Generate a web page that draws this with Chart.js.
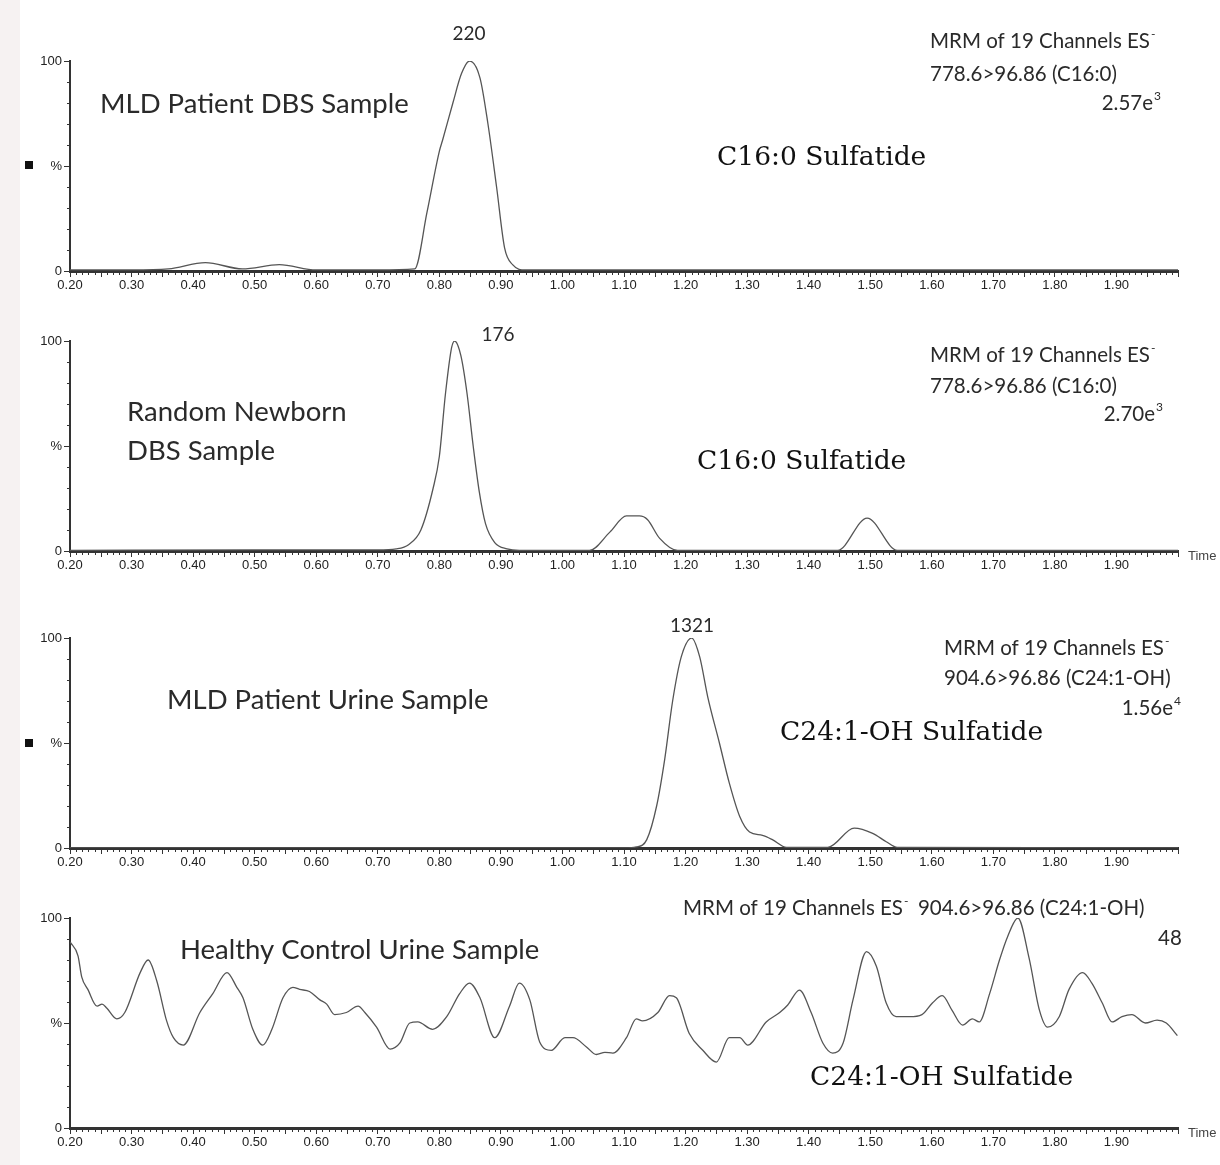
<!DOCTYPE html>
<html>
<head>
<meta charset="utf-8">
<script src="https://cdn.jsdelivr.net/npm/chart.js@4.4.1/dist/chart.umd.min.js"></script>
<style>
  body { margin: 0; background: #fff; width: 1220px; height: 1165px; overflow: hidden; position: relative; }
  .strip { position: absolute; left: 0; top: 0; width: 20px; height: 1165px; background: #f6f2f2; }
  canvas { position: absolute; left: 0; }
</style>
</head>
<body>
<div class="strip"></div>
<canvas id="c1" width="1220" height="280"></canvas>
<canvas id="c2" width="1220" height="280"></canvas>
<canvas id="c3" width="1220" height="280"></canvas>
<canvas id="c4" width="1220" height="280"></canvas>
<script>
// retention time (min) and relative intensity (%)
const timesDbsPatient = [0.20, 0.30, 0.36, 0.42, 0.48, 0.54, 0.60, 0.70, 0.76, 0.78, 0.80, 0.805, 0.822, 0.836, 0.849, 0.866, 0.879, 0.893, 0.906, 0.919, 0.94, 1.00, 1.20, 1.50, 2.00];
const pctDbsPatient   = [0.5, 0.5, 1, 4, 1, 3, 0.5, 0.5, 1, 28, 57, 62, 80, 94, 100, 92, 70, 40, 11, 3, 0.5, 0.5, 0.5, 0.5, 0.5];

const timesDbsNewborn = [0.20, 0.50, 0.70, 0.73, 0.75, 0.77, 0.79, 0.80, 0.81, 0.82, 0.825, 0.835, 0.845, 0.855, 0.865, 0.875, 0.89, 0.91, 0.93, 1.044, 1.077, 1.104, 1.125, 1.138, 1.158, 1.187, 1.30, 1.447, 1.495, 1.544, 1.70, 2.00];
const pctDbsNewborn   = [0.3, 0.5, 0.5, 1, 3, 10, 30, 45, 75, 97, 100, 93, 75, 50, 28, 13, 4, 1, 0.3, 0.3, 9, 16.7, 16.7, 15, 6, 0.3, 0.3, 0.3, 15.7, 0.3, 0.3, 0.3];

const timesUrinePatient = [0.20, 0.80, 1.10, 1.120, 1.137, 1.153, 1.166, 1.179, 1.193, 1.210, 1.223, 1.236, 1.255, 1.271, 1.288, 1.304, 1.325, 1.341, 1.364, 1.431, 1.474, 1.504, 1.526, 1.544, 2.00];
const pctUrinePatient   = [0, 0, 0, 0.5, 4, 20, 42, 70, 91, 100, 91, 72, 50, 31, 15, 7.6, 6, 4, 0.3, 0.3, 9.5, 7, 3, 0.3, 0];

const timesUrineControl = [0.200, 0.213, 0.219, 0.229, 0.244, 0.252, 0.260, 0.276, 0.289, 0.314, 0.327, 0.341, 0.357, 0.368, 0.384, 0.411, 0.432, 0.455, 0.471, 0.481, 0.497, 0.513, 0.528, 0.546, 0.562, 0.573, 0.589, 0.606, 0.617, 0.630, 0.649, 0.668, 0.679, 0.698, 0.720, 0.736, 0.752, 0.765, 0.789, 0.812, 0.833, 0.849, 0.866, 0.890, 0.914, 0.930, 0.947, 0.963, 0.982, 1.004, 1.017, 1.039, 1.055, 1.069, 1.082, 1.104, 1.120, 1.130, 1.155, 1.174, 1.185, 1.206, 1.228, 1.250, 1.271, 1.288, 1.301, 1.331, 1.353, 1.366, 1.385, 1.404, 1.423, 1.439, 1.456, 1.472, 1.494, 1.510, 1.526, 1.542, 1.564, 1.584, 1.601, 1.617, 1.633, 1.650, 1.666, 1.677, 1.694, 1.710, 1.723, 1.740, 1.758, 1.775, 1.788, 1.807, 1.823, 1.845, 1.860, 1.877, 1.893, 1.909, 1.925, 1.947, 1.966, 1.981, 1.999];
const pctUrineControl   = [88.6, 82, 72, 66, 58, 59, 57, 52, 55, 74, 80, 70, 51, 43, 39.5, 55, 64, 74, 67, 62, 47, 39.5, 47, 62, 67, 66, 65, 61, 59, 54, 55, 58, 55, 48, 37.6, 40.5, 50, 50.5, 47, 53, 64, 69, 62, 43, 58, 69, 61, 41, 37, 43, 43, 38.6, 35, 36, 35.7, 43, 52, 51, 55, 63, 62, 45, 37, 31.4, 43, 43, 39.5, 50.5, 55, 58.6, 65.7, 55, 40.5, 35.7, 40.5, 61, 84, 77, 59.5, 53, 53, 54, 59.5, 63, 56, 49, 52, 50.5, 64, 80, 91, 100, 81, 56, 48, 53, 66, 74, 69, 59.5, 50.5, 53, 54, 50, 51.4, 50, 44];

const yTicks = [0, 50, 100];

const CAL = 'Lato, "Open Sans", sans-serif';
const SERIF = '"DejaVu Serif", serif';
const TXT = '#2a2a2a';
const BIG = '27.5px ' + CAL;
const MRM = '20.5px ' + CAL;
const SER = '26.5px ' + SERIF;

const panels = [
  {
    id: 'c1', top: 21, times: timesDbsPatient, values: pctDbsPatient,
    notes: [
      { text: '220', x: 469, y: 34, align: 'center', font: '19px ' + CAL },
      { text: 'MLD Patient DBS Sample', x: 100, y: 104, font: BIG },
      { text: 'C16:0 Sulfatide', x: 717, y: 158, font: SER, color: '#111' },
      { text: 'MRM of 19 Channels ES', sup: '-', x: 930, y: 41, font: MRM },
      { text: '778.6>96.86 (C16:0)', x: 930, y: 74, font: MRM },
      { text: '2.57e', sup: '3', x: 1160, y: 103, align: 'right', font: MRM },
      { box: true, x: 29, y: 165 }
    ]
  },
  {
    id: 'c2', top: 301, times: timesDbsNewborn, values: pctDbsNewborn,
    notes: [
      { text: '176', x: 498, y: 335, align: 'center', font: '19px ' + CAL },
      { text: 'Random Newborn', x: 127, y: 412, font: BIG },
      { text: 'DBS Sample', x: 127, y: 451, font: BIG },
      { text: 'C16:0 Sulfatide', x: 697, y: 462, font: SER, color: '#111' },
      { text: 'MRM of 19 Channels ES', sup: '-', x: 930, y: 355, font: MRM },
      { text: '778.6>96.86 (C16:0)', x: 930, y: 386, font: MRM },
      { text: '2.70e', sup: '3', x: 1162, y: 414, align: 'right', font: MRM },
      { text: 'Time', x: 1188, y: 556, font: '13px "Liberation Sans", sans-serif', color: '#444' }
    ]
  },
  {
    id: 'c3', top: 598, times: timesUrinePatient, values: pctUrinePatient,
    notes: [
      { text: '1321', x: 692, y: 626, align: 'center', font: '19px ' + CAL },
      { text: 'MLD Patient Urine Sample', x: 167, y: 700, font: BIG },
      { text: 'C24:1-OH Sulfatide', x: 780, y: 733, font: SER, color: '#111' },
      { text: 'MRM of 19 Channels ES', sup: '-', x: 944, y: 648, font: MRM },
      { text: '904.6>96.86 (C24:1-OH)', x: 944, y: 678, font: MRM },
      { text: '1.56e', sup: '4', x: 1180, y: 708, align: 'right', font: MRM },
      { box: true, x: 29, y: 743 }
    ]
  },
  {
    id: 'c4', top: 878, times: timesUrineControl, values: pctUrineControl,
    notes: [
      { text: 'Healthy Control Urine Sample', x: 180, y: 950, font: BIG },
      { text: 'MRM of 19 Channels ES', sup: '-', after: '  904.6>96.86 (C24:1-OH)', x: 683, y: 908, font: MRM },
      { text: '48', x: 1158, y: 938, font: MRM },
      { text: 'C24:1-OH Sulfatide', x: 810, y: 1078, font: SER, color: '#111' },
      { text: 'Time', x: 1188, y: 1133, font: '13px "Liberation Sans", sans-serif', color: '#444' }
    ]
  }
];

// minor ticks + free text on each panel
const decorations = {
  id: 'decorations',
  afterDraw(chart, args, opts) {
    const ctx = chart.ctx;
    const xs = chart.scales.x;
    const ys = chart.scales.y;
    ctx.save();
    ctx.strokeStyle = '#333';
    ctx.lineWidth = 1;
    ctx.beginPath();
    for (let i = 21; i < 200; i++) {
      if (i % 10 === 0) continue;
      const px = Math.round(xs.getPixelForValue(i / 100)) + 0.5;
      const len = i % 5 === 0 ? 5 : 3;
      ctx.moveTo(px, ys.bottom + 1);
      ctx.lineTo(px, ys.bottom + 1 + len);
    }
    for (let v = 10; v < 100; v += 10) {
      if (v === 50) continue;
      const py = Math.round(ys.getPixelForValue(v)) + 0.5;
      ctx.moveTo(xs.left - 3, py);
      ctx.lineTo(xs.left, py);
    }
    ctx.stroke();

    ctx.textBaseline = 'middle';
    opts.notes.forEach(n => {
      const y = n.y - opts.top;
      if (n.box) {
        ctx.fillStyle = '#111';
        ctx.fillRect(n.x - 4, y - 4, 8, 8);
        return;
      }
      const size = parseFloat(n.font);
      const supFont = n.font.replace(/^[\d.]+px/, Math.round(size * 0.6) + 'px');
      ctx.font = n.font;
      const w1 = ctx.measureText(n.text).width;
      const w3 = n.after ? ctx.measureText(n.after).width : 0;
      ctx.font = supFont;
      const w2 = n.sup ? ctx.measureText(n.sup).width : 0;
      const total = w1 + w2 + w3;
      let x = n.x;
      if (n.align === 'center') x -= total / 2;
      if (n.align === 'right') x -= total;
      ctx.fillStyle = n.color || TXT;
      ctx.textAlign = 'left';
      ctx.font = n.font;
      ctx.fillText(n.text, x, y);
      if (n.sup) {
        ctx.font = supFont;
        ctx.fillText(n.sup, x + w1 + 1, y - size * 0.35);
      }
      if (n.after) {
        ctx.font = n.font;
        ctx.fillText(n.after, x + w1 + w2, y);
      }
    });
    ctx.restore();
  }
};

panels.forEach(p => {
  const el = document.getElementById(p.id);
  el.style.top = p.top + 'px';
  new Chart(el, {
    type: 'line',
    data: {
      datasets: [{
        data: p.times.map((t, i) => ({ x: t, y: p.values[i] })),
        borderColor: '#555',
        borderWidth: 1.3,
        pointRadius: 0,
        fill: false,
        cubicInterpolationMode: 'monotone'
      }]
    },
    options: {
      responsive: false,
      animation: false,
      layout: { padding: { left: 0, right: 42, top: 40, bottom: 0 } },
      plugins: {
        legend: { display: false },
        tooltip: { enabled: false },
        decorations: { notes: p.notes, top: p.top }
      },
      scales: {
        x: {
          type: 'linear',
          min: 0.2,
          max: 2.0,
          afterFit: s => { s.height = 30; },
          ticks: {
            stepSize: 0.1,
            autoSkip: false,
            maxRotation: 0,
            padding: 1,
            color: '#222',
            font: { family: '"Liberation Sans", sans-serif', size: 13 },
            callback: v => Math.abs(v - 2) < 1e-6 ? '' : Number(v).toFixed(2)
          },
          grid: { drawOnChartArea: false, drawTicks: true, tickLength: 6, color: '#333' },
          border: { display: true, width: 3, color: '#333' }
        },
        y: {
          min: 0,
          max: 100,
          afterFit: s => { s.width = 70; },
          afterBuildTicks: s => { s.ticks = yTicks.map(v => ({ value: v })); },
          ticks: {
            padding: 2,
            color: '#222',
            font: { family: '"Liberation Sans", sans-serif', size: 13 },
            callback: v => v === 50 ? '%' : v
          },
          grid: { drawOnChartArea: false, drawTicks: true, tickLength: 6, color: '#333' },
          border: { display: true, width: 2, color: '#333' }
        }
      }
    },
    plugins: [decorations]
  });
});
</script>
</body>
</html>
